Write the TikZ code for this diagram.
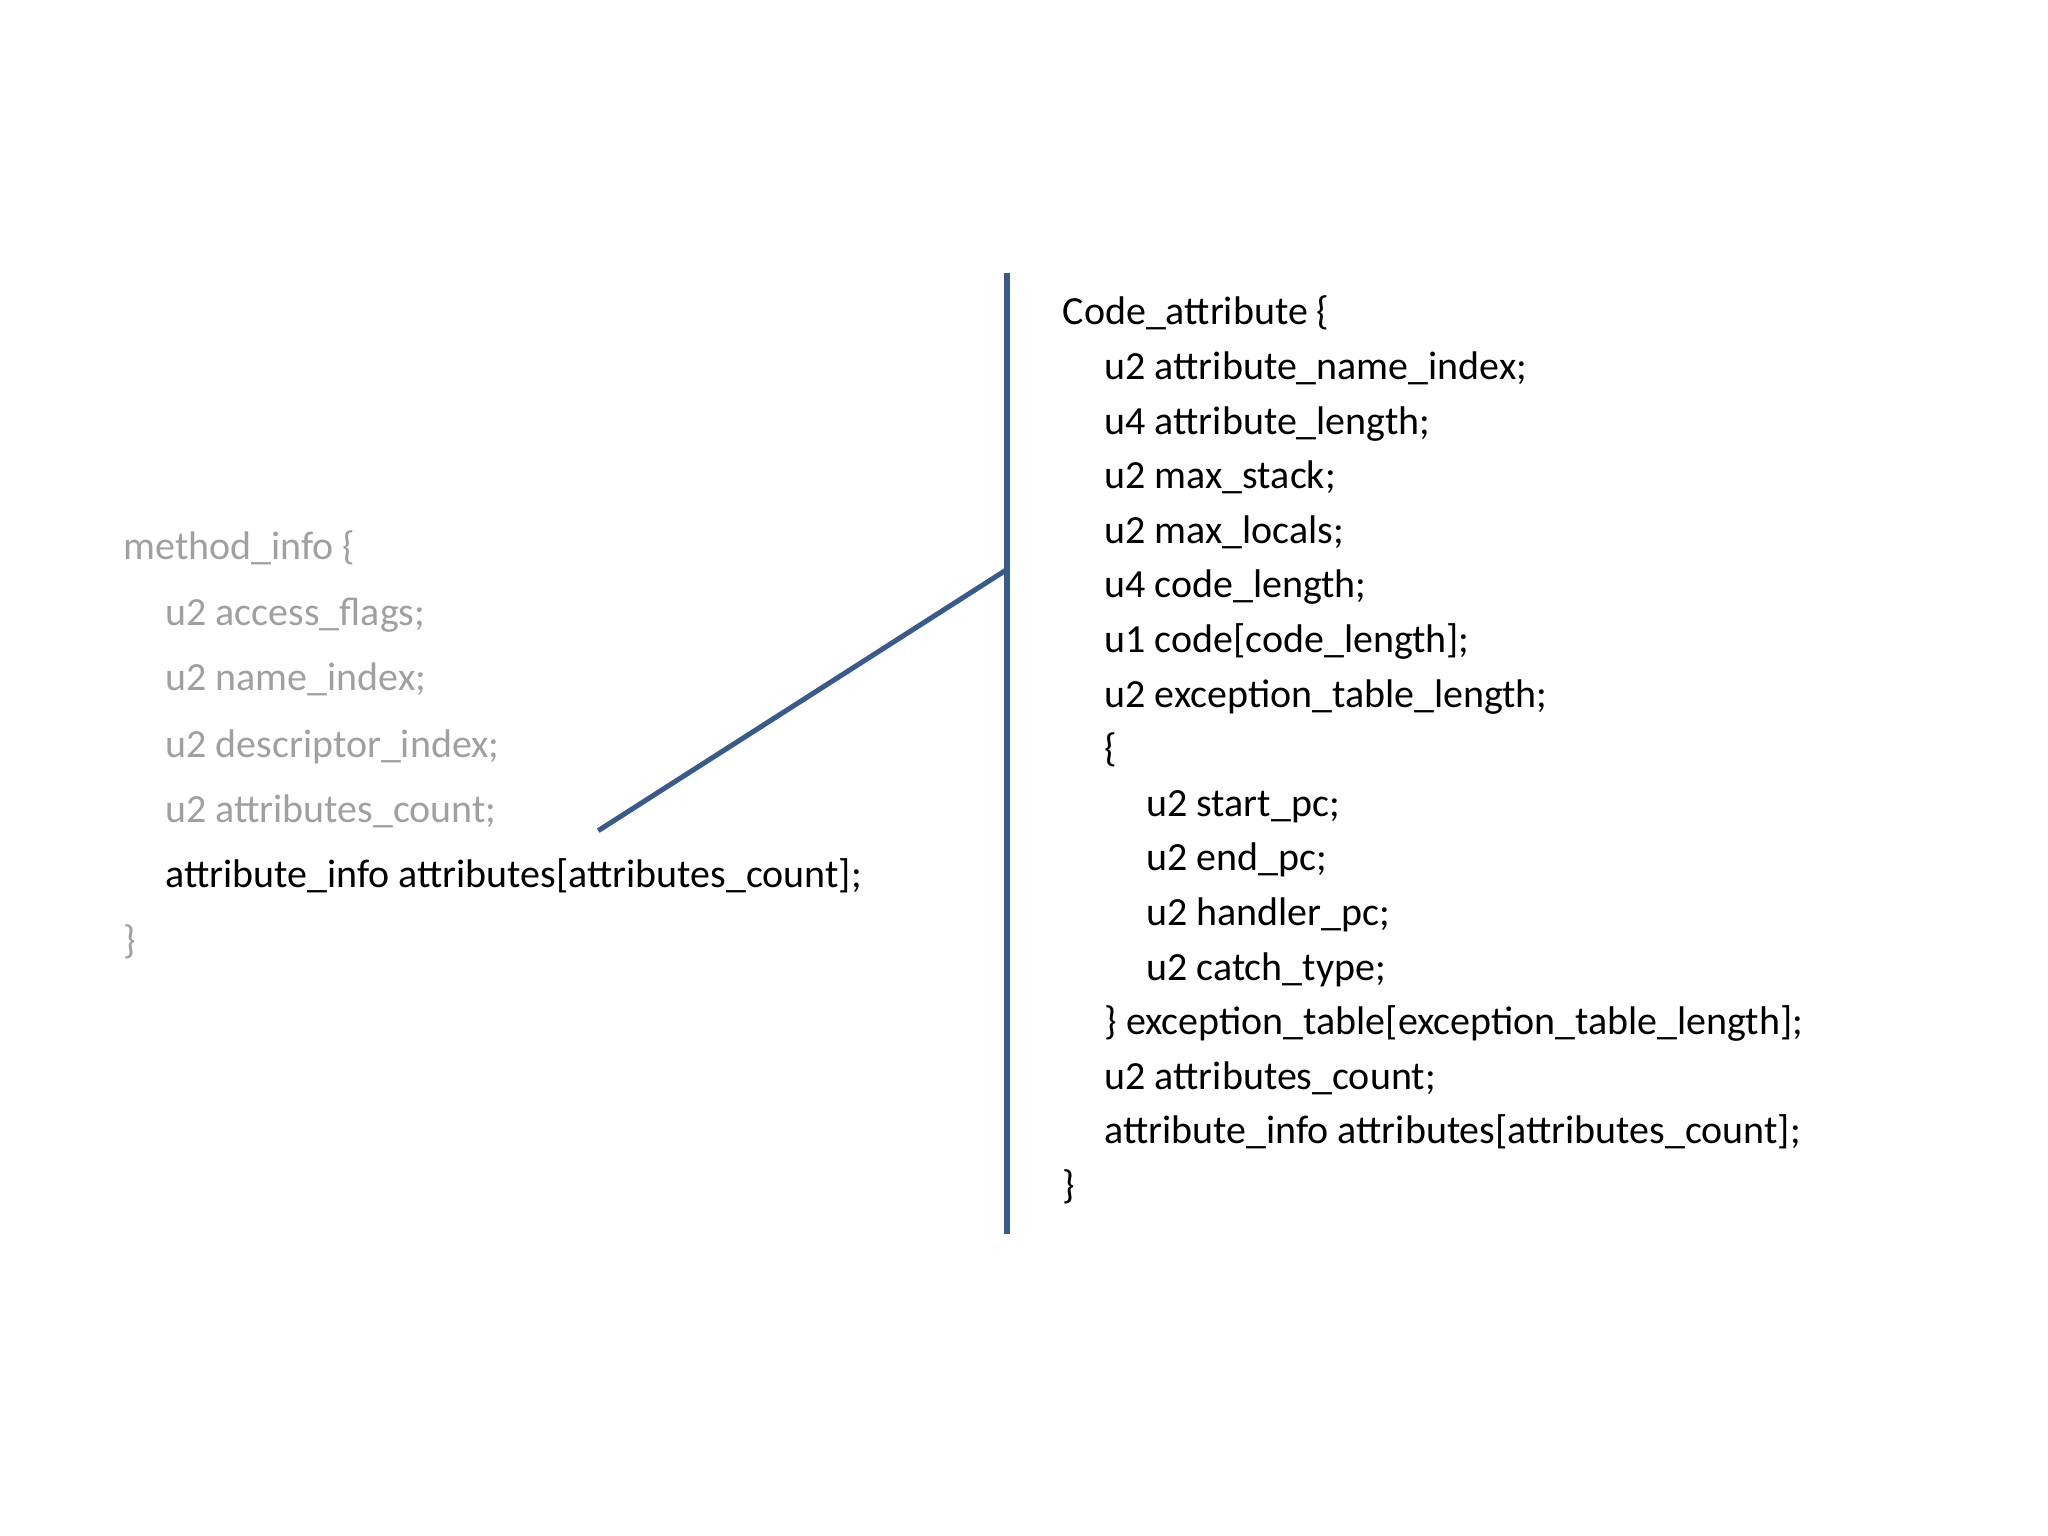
\documentclass[tikz,border=0pt]{standalone}
\usepackage{fontspec}
\setmainfont{Carlito}
\definecolor{lineblue}{HTML}{3A5A8A}
\definecolor{graytxt}{HTML}{A0A0A0}
\begin{document}
\begin{tikzpicture}[x=0.01cm,y=-0.01cm,
  code/.style={anchor=west,inner sep=0pt,font=\fontsize{8.7pt}{10pt}\selectfont,text height=0.62em,text depth=0.18em},
  gr/.style={code,text=graytxt},
  conn/.style={draw=lineblue,line width=1.1pt}]
\useasboundingbox (0,0) rectangle (1568,1176);
\node[gr] (l1) at (94,421) {method\_info \{};
\node[gr] (l2) at (126,471) {u2 access\_flags;};
\node[gr] (l3) at (126,521) {u2 name\_index;};
\node[gr] (l4) at (126,572) {u2 descriptor\_index;};
\node[gr] (l5) at (126,622) {u2 attributes\_count;};
\node[code] (l6) at (126,672) {attribute\_info attributes[attributes\_count];};
\node[gr] (l7) at (94,722) {\}};
\coordinate (vt) at (771,209);
\coordinate (vb) at (771,945);
\coordinate (vm) at (771,436);
\coordinate (ls) at (458,636);
\draw[conn] (vt) -- (vb);
\draw[conn] (ls) -- (vm);
\foreach \i/\x/\t in {0/813/{Code\_attribute \{},1/845/{u2 attribute\_name\_index;},2/845/{u4 attribute\_length;},3/845/{u2 max\_stack;},4/845/{u2 max\_locals;},5/845/{u4 code\_length;},6/845/{u1 code[code\_length];},7/845/{u2 exception\_table\_length;},8/845/{\{},9/877/{u2 start\_pc;},10/877/{u2 end\_pc;},11/877/{u2 handler\_pc;},12/877/{u2 catch\_type;},13/845/{\} exception\_table[exception\_table\_length];},14/845/{u2 attributes\_count;},15/845/{attribute\_info attributes[attributes\_count];},16/813/{\}}}
  \node[code] (r\i) at (\x,241+41.8*\i) {\t};
\end{tikzpicture}
\end{document}
